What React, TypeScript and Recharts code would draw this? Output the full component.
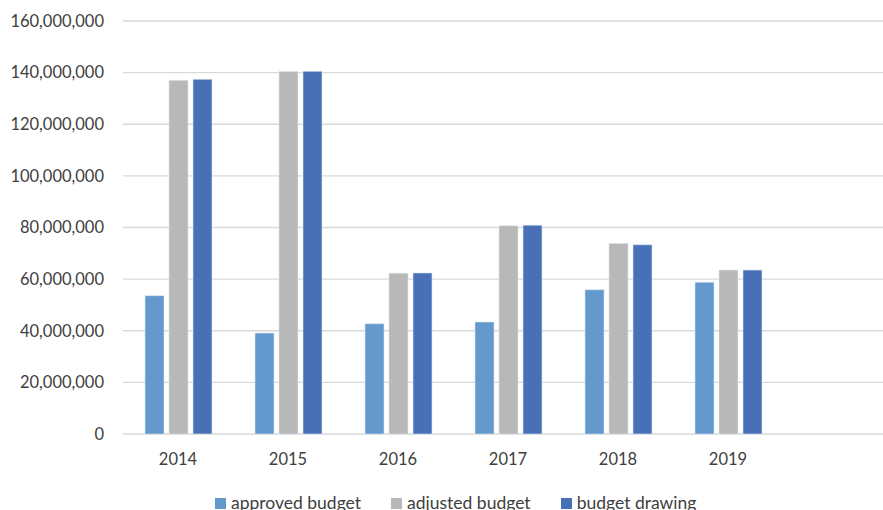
import React from "react";
import { BarChart, Bar, XAxis, YAxis, CartesianGrid } from "recharts";

// Fiscal years; the trailing blank slot keeps an empty band at the right edge.
const years = ["2014", "2015", "2016", "2017", "2018", "2019", ""];
const approvedBudget = [53.6, 39.1, 42.7, 43.4, 55.9, 58.8, null];
const adjustedBudget = [137.0, 140.4, 62.3, 80.7, 73.8, 63.5, null];
const budgetDrawing = [137.4, 140.5, 62.4, 80.9, 73.3, 63.5, null];
const yTicks = [0, 20e6, 40e6, 60e6, 80e6, 100e6, 120e6, 140e6, 160e6];

const MILLION = 1e6;

const series = [
  { key: "approved", name: "approved budget", color: "#6399CC", values: approvedBudget },
  { key: "adjusted", name: "adjusted budget", color: "#B8B8B8", values: adjustedBudget },
  { key: "drawing", name: "budget drawing", color: "#4870B6", values: budgetDrawing },
];

const data = years.map((year, i) => {
  const row: Record<string, string | number | null> = { year };
  series.forEach((s) => {
    const v = s.values[i];
    row[s.key] = v == null ? null : v * MILLION;
  });
  return row;
});

const FONT = "Lato, 'Noto Sans', sans-serif";
const TEXT = "#404040";

export default function App() {
  return (
    <div
      style={{
        position: "fixed",
        left: 0,
        top: 0,
        width: 883,
        height: 510,
        overflow: "hidden",
        background: "#fff",
        fontFamily: FONT,
      }}
    >
      <BarChart
        width={893}
        height={510}
        data={data}
        margin={{ top: 21, right: 0, bottom: 46, left: 8 }}
        barSize={19}
        barGap={5}
      >
        <CartesianGrid vertical={false} stroke="#D9D9D9" strokeWidth={1.3} />
        <XAxis
          dataKey="year"
          axisLine={false}
          tickLine={false}
          tickSize={0}
          tickMargin={19}
          height={30}
          interval={0}
          tick={{ fill: TEXT, fontSize: 16.5, fontFamily: FONT }}
        />
        <YAxis
          domain={[0, 160e6]}
          ticks={yTicks}
          interval={0}
          width={115}
          axisLine={false}
          tickLine={false}
          tickSize={0}
          tickMargin={19}
          tickFormatter={(v: number) => v.toLocaleString("en-US")}
          tick={{ fill: TEXT, fontSize: 16.5, fontFamily: FONT }}
        />
        {series.map((s) => (
          <Bar
            key={s.key}
            dataKey={s.key}
            name={s.name}
            fill={s.color}
            stroke="#DCE6F2"
            strokeWidth={0.6}
            isAnimationActive={false}
          />
        ))}
      </BarChart>
      <div
        style={{
          position: "absolute",
          left: 215,
          top: 494,
          display: "flex",
          alignItems: "flex-start",
          gap: 30,
          fontSize: 17.5,
          lineHeight: "17.5px",
          color: TEXT,
          whiteSpace: "nowrap",
        }}
      >
        {series.map((s) => (
          <div key={s.key} style={{ display: "flex", alignItems: "flex-start" }}>
            <span
              style={{
                display: "inline-block",
                width: 11,
                height: 11,
                marginTop: 4,
                marginRight: 5,
                background: s.color,
              }}
            />
            <span>{s.name}</span>
          </div>
        ))}
      </div>
    </div>
  );
}
